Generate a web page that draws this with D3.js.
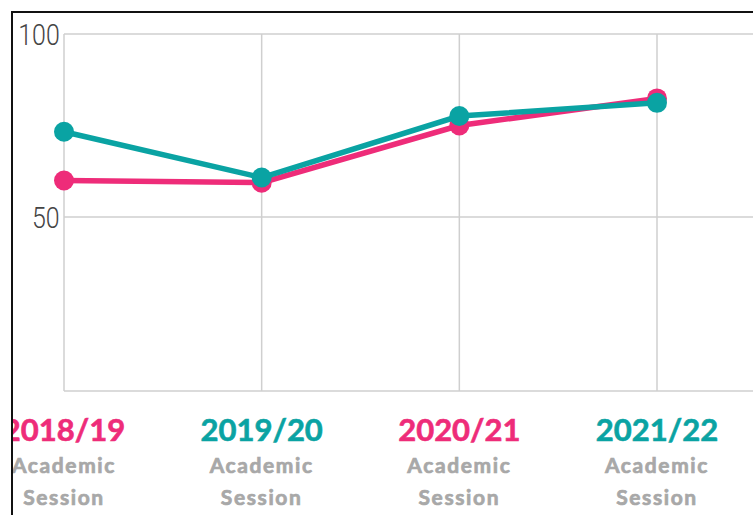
<!DOCTYPE html>
<html>
<head>
<meta charset="utf-8">
<script src="https://cdn.jsdelivr.net/npm/d3@7"></script>
<style>
  body { margin: 0; background: #fff; }
  svg { display: block; }
</style>
</head>
<body>
<svg width="753" height="515"></svg>
<script>
// data
const sessions = ["2018/19", "2019/20", "2020/21", "2021/22"];
const pinkValues = [60.0, 59.4, 75.0, 82.4];
const tealValues = [73.3, 60.8, 77.6, 81.2];
const yTicks = [50, 100];
const labelColors = ["#ee2c79", "#0aa3a3", "#ee2c79", "#0aa3a3"];

const pink = "#ee2c79";
const teal = "#0aa3a3";

const svg = d3.select("svg");

//everything is clipped inside the black frame
svg.append("clipPath").attr("id", "frame")
  .append("rect").attr("x", 13).attr("y", 13).attr("width", 800).attr("height", 600);

const g = svg.append("g").attr("clip-path", "url(#frame)");

const x = d3.scalePoint().domain(sessions).range([64, 657]);
const y = d3.scaleLinear().domain([2.5, 100]).range([391, 34]);

//horizontal gridlines
g.append("g")
  .selectAll("line")
  .data(yTicks)
  .join("line")
  .attr("x1", 64).attr("x2", 760)
  .attr("y1", d => y(d)).attr("y2", d => y(d))
  .attr("stroke", "#cfcfcf").attr("stroke-width", 1.5);

//vertical gridlines
g.append("g")
  .selectAll("line")
  .data(sessions)
  .join("line")
  .attr("x1", d => x(d)).attr("x2", d => x(d))
  .attr("y1", y(100)).attr("y2", y(2.5))
  .attr("stroke", "#cfcfcf").attr("stroke-width", 1.5);

//bottom line
g.append("line")
  .attr("x1", 64).attr("x2", 760)
  .attr("y1", y(2.5)).attr("y2", y(2.5))
  .attr("stroke", "#cfcfcf").attr("stroke-width", 1.5);

//y axis labels (narrow, light)
const yAxis = g.append("g")
  .attr("transform", "translate(64,0)")
  .call(d3.axisLeft(y).tickValues(yTicks).tickSize(0).tickPadding(5));
yAxis.select(".domain").remove();
yAxis.selectAll("text")
  .attr("font-family", "Roboto")
  .attr("font-weight", 300)
  .attr("font-size", 29)
  .attr("fill", "#444")
  .attr("dy", "0.36em")
  .attr("transform", "scale(0.86,1)");

//lines + dots
const line = d3.line()
  .x((d, i) => x(sessions[i]))
  .y(d => y(d));

[[pinkValues, pink], [tealValues, teal]].forEach(([vals, col]) => {
  g.append("path")
    .datum(vals)
    .attr("d", line)
    .attr("fill", "none")
    .attr("stroke", col)
    .attr("stroke-width", 5.5);
  g.append("g")
    .selectAll("circle")
    .data(vals)
    .join("circle")
    .attr("cx", (d, i) => x(sessions[i]))
    .attr("cy", d => y(d))
    .attr("r", 10)
    .attr("fill", col);
});

//x labels
const xl = g.append("g")
  .selectAll("g")
  .data(sessions)
  .join("g")
  .attr("transform", d => `translate(${x(d)},0)`)
  .attr("text-anchor", "middle")
  .attr("font-family", "Lato");

xl.append("text")
  .attr("y", 441)
  .attr("font-size", 31)
  .attr("font-weight", 700)
  .attr("fill", (d, i) => labelColors[i])
  .attr("stroke", (d, i) => labelColors[i])
  .attr("stroke-width", 0.6)
  .text(d => d);

//gray sub labels, a little stroke to make them heavier
["Academic", "Session"].forEach((t, k) => {
  xl.append("text")
    .attr("y", 473 + k * 32)
    .attr("font-size", 21)
    .attr("font-weight", 700)
    .attr("letter-spacing", 1.6)
    .attr("fill", "#a8a8a8")
    .attr("stroke", "#a8a8a8")
    .attr("stroke-width", 0.7)
    .text(t);
});

//black frame on the left and top
svg.append("path")
  .attr("d", "M12,515V12H753")
  .attr("fill", "none")
  .attr("stroke", "#111")
  .attr("stroke-width", 2);
</script>
</body>
</html>
